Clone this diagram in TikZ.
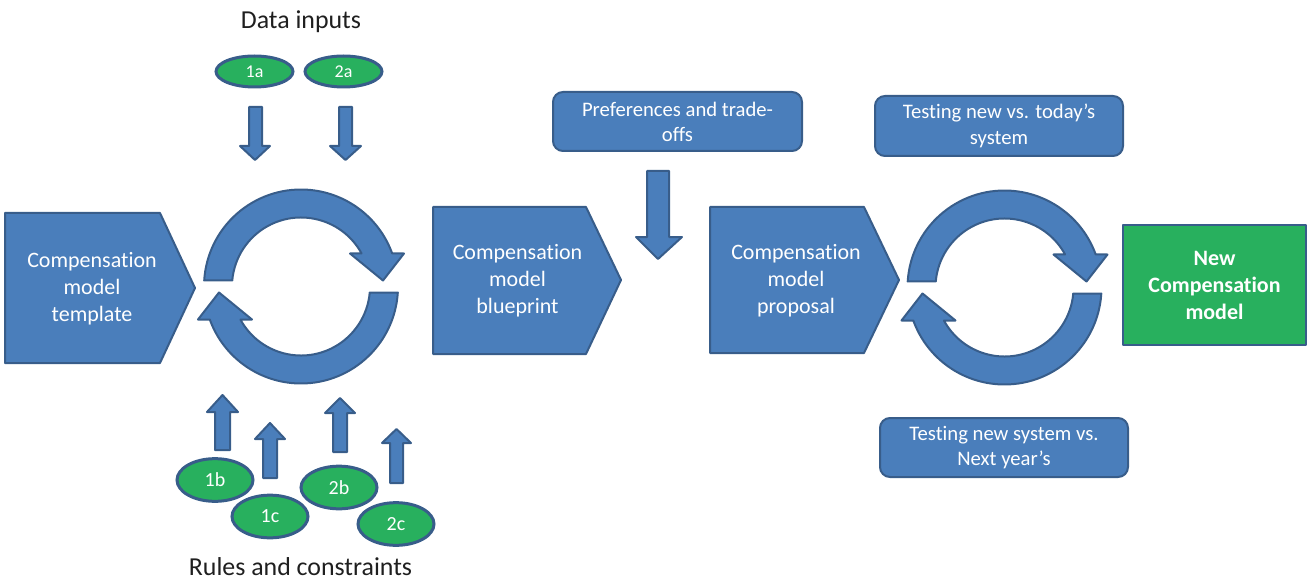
\documentclass[tikz,border=0pt]{standalone}
\usepackage{fontspec}
\setmainfont{Carlito}[Ligatures=NoCommon]
\usetikzlibrary{shapes.geometric}
\definecolor{shapeblue}{RGB}{74,126,187}
\definecolor{edgeblue}{RGB}{56,93,138}
\definecolor{taggreen}{RGB}{40,176,94}
\tikzset{every picture/.style={line width=0.75pt},
  block/.style={draw=edgeblue, fill=shapeblue, line width=1.5pt, line join=round},
  roundbox/.style={block, rounded corners=7.5pt},
  shapetext/.style={text=white, align=center, inner sep=0.75pt, font=\fontsize{16.5}{20.25}\selectfont},
  boxtext/.style={text=white, align=center, inner sep=0.75pt, font=\fontsize{15.5}{19.2}\selectfont},
  tagsmall/.style={ellipse, draw=edgeblue, fill=taggreen, line width=2.25pt, text=white, inner sep=0pt,
    minimum width=57.75pt, minimum height=23.25pt, font=\fontsize{13.5}{15}\selectfont},
  tagbig/.style={tagsmall, minimum width=57pt, minimum height=32pt, font=\fontsize{15}{17}\selectfont},
  caption/.style={text=black!88, inner sep=0.75pt, font=\fontsize{19.4}{23}\selectfont}}

\begin{document}
\begin{tikzpicture}[x=0.75pt,y=0.75pt,yscale=-1,xscale=1]
\path[use as bounding box] (0,0) rectangle (1310,581);

%Shape: Pentagon [id:dp01]
\draw [block] (5,213) -- (160,213) -- (195,288) -- (160,363) -- (5,363) -- cycle ;
%Shape: Pentagon [id:dp02]
\draw [block] (433,207) -- (586,207) -- (621,280) -- (586,354) -- (433,354) -- cycle ;
%Shape: Pentagon [id:dp03]
\draw [block] (710,207) -- (864,207) -- (899,280) -- (864,353) -- (710,353) -- cycle ;
%Shape: Rectangle [id:dp04]
\draw [block, fill=taggreen] (1123,225) rectangle (1306,345) ;

%Shape: Rounded Rect [id:dp05]
\draw [roundbox] (553,92) rectangle (802,151) ;
%Shape: Rounded Rect [id:dp06]
\draw [roundbox] (875,96) rectangle (1123,156) ;
%Shape: Rounded Rect [id:dp07]
\draw [roundbox] (880,418) rectangle (1128,477) ;

%Shape: Circular Arrow [id:dp08]
\begin{scope}[shift={(301,286.5)}, yscale=-1]
\draw [block] (176.45:97) arc [start angle=176.45, end angle=19.9, radius=97] -- (103,33) -- (82,6) -- (49,33) -- (28.6:69) arc [start angle=28.6, end angle=175, radius=69] -- cycle ;
\draw [block, rotate=180] (176.45:97) arc [start angle=176.45, end angle=19.9, radius=97] -- (103,33) -- (82,6) -- (49,33) -- (28.6:69) arc [start angle=28.6, end angle=175, radius=69] -- cycle ;
\end{scope}
%Shape: Circular Arrow [id:dp09]
\begin{scope}[shift={(1004.5,287.5)}, yscale=-1]
\draw [block] (176.45:97) arc [start angle=176.45, end angle=19.9, radius=97] -- (103,33) -- (82,6) -- (49,33) -- (28.6:69) arc [start angle=28.6, end angle=175, radius=69] -- cycle ;
\draw [block, rotate=180] (176.45:97) arc [start angle=176.45, end angle=19.9, radius=97] -- (103,33) -- (82,6) -- (49,33) -- (28.6:69) arc [start angle=28.6, end angle=175, radius=69] -- cycle ;
\end{scope}

%Shape: Down Arrow [id:dp10]
\draw [block] (647,171) -- (669,171) -- (669,237) -- (682,237) -- (658,259) -- (636,237) -- (647,237) -- cycle ;
%Shape: Down Arrow [id:dp11]
\draw [block] (249,107) -- (262,107) -- (262,146) -- (270,146) -- (255,160) -- (240,146) -- (249,146) -- cycle ;
%Shape: Down Arrow [id:dp12]
\draw [block] (339,107) -- (352,107) -- (352,146) -- (361,146) -- (345.5,160) -- (330,146) -- (339,146) -- cycle ;
%Shape: Up Arrow [id:dp13]
\draw [block] (215,450) -- (230,450) -- (230,412) -- (238,412) -- (222.5,395) -- (207,412) -- (215,412) -- cycle ;
%Shape: Up Arrow [id:dp14]
\draw [block] (263,478) -- (277,478) -- (277,439) -- (285,439) -- (270,423) -- (255,439) -- (263,439) -- cycle ;
%Shape: Up Arrow [id:dp15]
\draw [block] (333,452) -- (347,452) -- (347,413) -- (355,413) -- (340,398) -- (325,413) -- (333,413) -- cycle ;
%Shape: Up Arrow [id:dp16]
\draw [block] (390,483) -- (403,483) -- (403,443) -- (411,443) -- (396.5,429) -- (382,443) -- (390,443) -- cycle ;

%Shape: Ellipse [id:dp17]
\node [tagsmall] (in1a) at (254.5,71.5) {1a};
\node [tagsmall] (in2a) at (343.5,71.5) {2a};
\node [tagbig] (in1b) at (215,480) {1b};
\node [tagbig] (in1c) at (270,516.5) {1c};
\node [tagbig] (in2b) at (339,487.5) {2b};
\node [tagbig] (in2c) at (396,524) {2c};

% Text Node
\node [shapetext] (template) at (92,289) {Compensation\\model\\template};
% Text Node
\node [shapetext] (blueprint) at (517.5,281) {Compensation\\model\\blueprint};
% Text Node
\node [shapetext] (proposal) at (796,281) {Compensation\\model\\proposal};
% Text Node
\node [shapetext, font=\bfseries\fontsize{16.5}{20.25}\selectfont] (newmodel) at (1214.5,285.5) {New\\Compensation\\model};
% Text Node
\node [boxtext] (prefs) at (677.5,122) {Preferences and trade-\\offs};
% Text Node
\node [boxtext] (today) at (999,126) {Testing new vs. today’s\\system};
% Text Node
\node [boxtext] (nextyear) at (1004,447.5) {Testing new system vs.\\Next year’s};
% Text Node
\node [caption] (datain) at (301,22) {Data inputs};
% Text Node
\node [caption] (rules) at (300.5,567) {Rules and constraints};

\end{tikzpicture}
\end{document}
